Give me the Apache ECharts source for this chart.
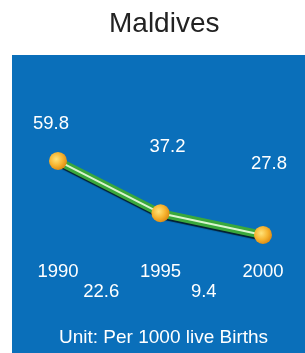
<!DOCTYPE html>
<html>
<head>
<meta charset="utf-8">
<script src="https://cdn.jsdelivr.net/npm/echarts@6/dist/echarts.min.js"></script>
<style>
  html, body { margin: 0; padding: 0; background: #fff; }
  #chart { width: 305px; height: 353px; }
</style>
</head>
<body>
<div id="chart"></div>
<script>
var years = ['1990', '1995', '2000'];
var rates = [59.8, 37.2, 27.8];
var drops = ['22.6', '9.4'];
var unitText = 'Unit: Per 1000 live Births';

// label nudges so value tags sit where the original puts them
var labelOffsets = [[-7, -37], [7, -66], [6, -71]];

var chartDom = document.getElementById('chart');
var myChart = echarts.init(chartDom);
var font = 'Liberation Sans, Arial, sans-serif';

var ball = new echarts.graphic.RadialGradient(0.4, 0.4, 0.6, [
  { offset: 0, color: '#ffe37a' },
  { offset: 0.6, color: '#f7b531' },
  { offset: 1, color: '#e08f16' }
]);

var option = {
  backgroundColor: '#fff',
  animation: false,
  graphic: [{
    type: 'rect',
    z: -10,
    shape: { x: 12, y: 55, width: 293, height: 298 },
    style: { fill: '#0a6fba' }
  }],
  title: [
    {
      text: 'Maldives', left: 109, top: 8, padding: 0,
      textStyle: { fontFamily: font, fontSize: 28, fontWeight: 'normal', color: '#222', lineHeight: 32 }
    },
    {
      text: unitText, left: 59, top: 327, padding: 0,
      textStyle: { fontFamily: font, fontSize: 19, fontWeight: 'normal', color: '#fff', lineHeight: 22 }
    }
  ],
  grid: { left: 58, right: 42, top: 160.5, bottom: 100 },
  xAxis: [
    {
      type: 'category',
      data: years,
      boundaryGap: false,
      position: 'bottom',
      axisLine: { show: false },
      axisTick: { show: false },
      splitLine: { show: false },
      axisLabel: { color: '#fff', fontFamily: font, fontSize: 18.5, margin: 9 }
    },
    {
      type: 'category',
      data: drops,
      boundaryGap: true,
      position: 'bottom',
      axisLine: { show: false },
      axisTick: { show: false },
      splitLine: { show: false },
      axisLabel: { color: '#fff', fontFamily: font, fontSize: 18.5, margin: 29, padding: [0, 16, 0, 0] }
    }
  ],
  yAxis: { type: 'value', min: 20, max: 60, show: false },
  series: [
    {
      type: 'line',
      data: rates,
      clip: false,
      z: 2,
      symbol: 'none',
      lineStyle: {
        color: '#3aa83c', width: 8,
        shadowColor: 'rgba(0,0,0,0.75)', shadowBlur: 1, shadowOffsetX: 1, shadowOffsetY: 2
      }
    },
    {
      type: 'line',
      data: rates.map(function (v, i) {
        return { value: v, label: { offset: labelOffsets[i] } };
      }),
      clip: false,
      z: 3,
      symbol: 'circle',
      symbolSize: 18,
      itemStyle: { color: ball },
      lineStyle: { color: '#d9f5cf', width: 2 },
      label: {
        show: true, position: 'inside', color: '#fff',
        fontFamily: font, fontSize: 18.5
      }
    }
  ]
};
option && myChart.setOption(option);
</script>
</body>
</html>
